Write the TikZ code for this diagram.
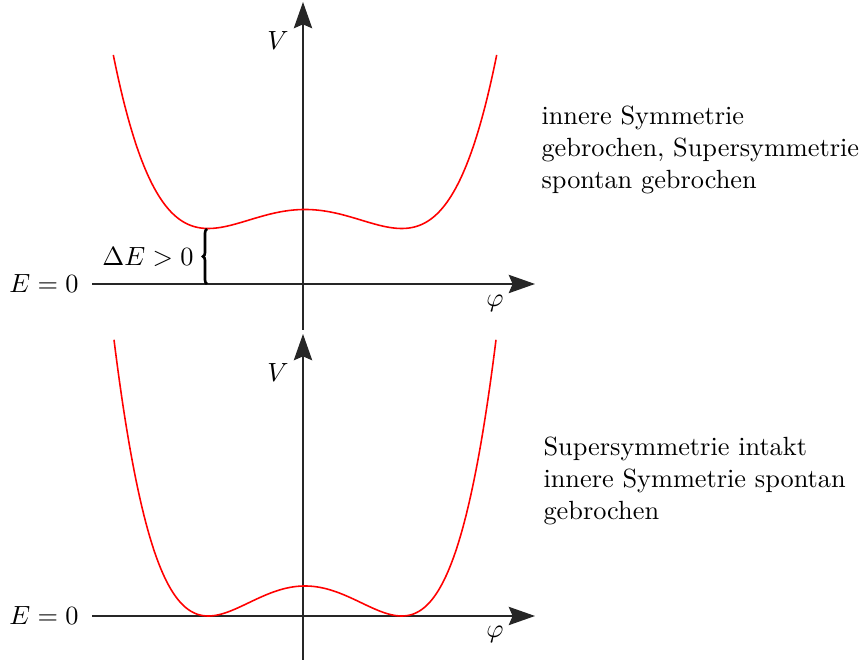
\documentclass[tikz,border=0pt]{standalone}
\usetikzlibrary{arrows.meta,decorations.pathreplacing}
\begin{document}
\begin{tikzpicture}[x=0.38pt,y=-0.38pt,
  declare function={ww(\t)=(\t/96.7)*(\t/96.7)-1;},
  axis/.style={draw=black!85,line width=0.5pt,-{Stealth[length=10pt,width=7pt,inset=1.5pt]}},
  pot/.style={draw=red,line width=0.6pt},
  lbl/.style={inner sep=0pt},
  txt/.style={anchor=west,align=left,inner sep=0pt}]
\useasboundingbox (0,0) rectangle (863,661);
% coordinates
\coordinate (tL) at (92,284);
\coordinate (tR) at (535,284);
\coordinate (tB) at (303,330);
\coordinate (tT) at (303,2);
\coordinate (bL) at (92,616);
\coordinate (bR) at (535,616);
\coordinate (bB) at (303,660);
\coordinate (bT) at (303,334);
\coordinate (br1) at (207,284);
\coordinate (br2) at (207,229);
% axes
\draw[axis] (tB) -- (tT);
\draw[axis] (tL) -- (tR);
\draw[axis] (bB) -- (bT);
\draw[axis] (bL) -- (bR);
% potentials
\draw[pot] plot[domain=-191.7:191.7,samples=241,smooth]
  ({305+\x},{228.5-ww(\x)*ww(\x)*(19.31+0.31*ww(\x))});
\draw[pot] plot[domain=-191:191,samples=241,smooth]
  ({305+\x},{616-ww(\x)*ww(\x)*(30.72+0.72*ww(\x))});
% brace
\draw[decorate,decoration={brace,amplitude=1.5pt},line width=1pt] (br1) -- (br2);
% labels
\node[lbl] (V1) at (278,41) {$V$};
\node[lbl] (V2) at (278,373) {$V$};
\node[lbl] (p1) at (495,303) {$\varphi$};
\node[lbl] (p2) at (495,634) {$\varphi$};
\node[lbl] (E1) at (44,284) {$E=0$};
\node[lbl] (E2) at (44,616) {$E=0$};
\node[lbl] (dE) at (148,257) {$\Delta E>0$};
\node[txt] (T1) at (541,150) {innere Symmetrie\\gebrochen, Supersymmetrie\\spontan gebrochen};
\node[txt] (T2) at (543,481) {Supersymmetrie intakt\\innere Symmetrie spontan\\gebrochen};
\end{tikzpicture}
\end{document}
